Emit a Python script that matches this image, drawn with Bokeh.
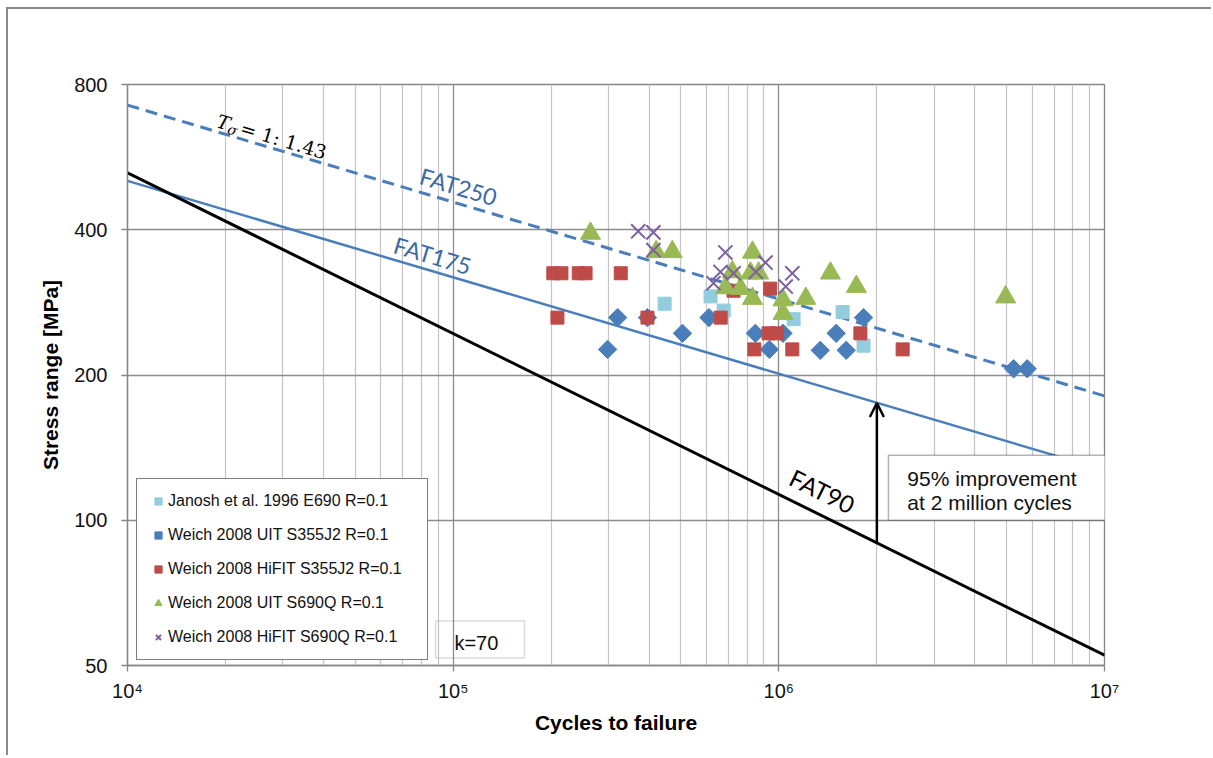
from bokeh.plotting import figure
from bokeh.models import (Range1d, FixedTicker, Legend, LegendItem, Label,
                          BoxAnnotation, Arrow, OpenHead)
from bokeh.core.properties import value
from bokeh.embed import file_html
from bokeh.resources import INLINE

# ---------------- data ----------------
JAN_N = [4.46e5, 6.17e5, 6.77e5, 1.11e6, 1.57e6, 1.82e6]
JAN_S = [281, 291, 272, 261, 270, 230]

UIT355_N = [2.98e5, 3.20e5, 3.95e5, 5.06e5, 6.10e5, 8.47e5, 9.35e5, 1.03e6,
            1.34e6, 1.50e6, 1.61e6, 1.82e6, 5.26e6, 5.79e6]
UIT355_S = [226, 263, 263, 244, 263, 244, 226, 244, 225, 244, 225, 263, 206, 206]

HIFIT355_N = [2.03e5, 2.15e5, 2.43e5, 2.55e5, 3.27e5, 2.09e5, 3.95e5, 6.63e5,
              7.26e5, 9.40e5, 9.30e5, 9.84e5, 8.41e5, 1.10e6, 1.78e6, 2.40e6]
HIFIT355_S = [325, 325, 325, 325, 325, 263, 263, 263, 299, 302, 244, 244, 226,
              226, 244, 226]

UIT690_N = [2.64e5, 4.20e5, 4.71e5, 7.20e5, 6.86e5, 7.63e5, 8.30e5, 8.19e5,
            8.67e5, 8.30e5, 1.03e6, 1.03e6, 1.21e6, 1.44e6, 1.73e6, 4.97e6]
UIT690_S = [393, 360, 360, 327, 303, 302, 359, 325, 325, 288, 286, 268, 288,
            325, 305, 290]

HIFIT690_N = [3.70e5, 4.12e5, 4.12e5, 6.85e5, 6.62e5, 6.30e5, 7.26e5, 9.10e5,
              8.50e5, 1.10e6, 1.05e6]
HIFIT690_S = [397, 395, 363, 359, 327, 310, 325, 342, 327, 325, 305]

LINE_N = [1e4, 1e7]
FAT250_S = [725, 181]
FAT175_S = [505, 127]
FAT90_S = [525, 52.5]

ARROW_N = 2e6
ARROW_FROM = 90
ARROW_TO = 175

X_TICKS = [10**4, 10**5, 10**6, 10**7]
X_LABELS = ["10⁴", "10⁵", "10⁶", "10⁷"]
Y_TICKS = [50, 100, 200, 400, 800]
Y_LABELS = ["50", "100", "200", "400", "800"]

LEGEND_LABELS = ["Janosh et al. 1996 E690 R=0.1",
                 "Weich 2008 UIT S355J2 R=0.1",
                 "Weich 2008 HiFIT S355J2 R=0.1",
                 "Weich 2008 UIT S690Q R=0.1",
                 "Weich 2008 HiFIT S690Q R=0.1"]

FONT = "Liberation Sans"
BLUE = "#4a7ebb"
BLUE_TXT = "#3b6aa6"

# ---------------- figure ----------------
p = figure(width=1205, height=748, x_axis_type="log", y_axis_type="log",
           x_range=Range1d(1e4, 1e7), y_range=Range1d(50, 800),
           output_backend="svg", toolbar_location=None,
           min_border_left=119, min_border_right=109,
           min_border_top=75, min_border_bottom=92,
           background_fill_color="white", border_fill_color="white",
           outline_line_color="#868686", outline_line_width=1.3)
p.styles = {"margin-left": "6px", "margin-top": "7px",
            "border-left": "2px solid #8a8a8a", "border-top": "2px solid #8a8a8a"}

p.xaxis.ticker = FixedTicker(ticks=X_TICKS,
                             minor_ticks=[m * 10**e for e in range(4, 7) for m in range(2, 10)])
p.yaxis.ticker = FixedTicker(ticks=Y_TICKS, minor_ticks=[])
p.xaxis.major_label_overrides = {t: l for t, l in zip(X_TICKS, X_LABELS)}
p.yaxis.major_label_overrides = {t: l for t, l in zip(Y_TICKS, Y_LABELS)}

for ax in (p.xaxis[0], p.yaxis[0]):
    ax.axis_line_color = "#868686"
    ax.axis_line_width = 1.3
    ax.major_tick_line_color = "#868686"
    ax.major_tick_line_width = 1.3
    ax.major_tick_out = 6
    ax.major_tick_in = 0
    ax.minor_tick_out = 0
    ax.minor_tick_in = 0
    ax.major_label_text_font = FONT
    ax.major_label_text_font_size = "20px"
    ax.major_label_text_color = "#111111"
    ax.axis_label_text_font = FONT
    ax.axis_label_text_font_size = "21px"
    ax.axis_label_text_font_style = "bold"
    ax.axis_label_text_color = "#000000"

p.xaxis.axis_label = "Cycles to failure"
p.yaxis.axis_label = "Stress range [MPa]"
p.xaxis.major_label_standoff = 8
p.yaxis.major_label_standoff = 14
p.xaxis.axis_label_standoff = 6
p.yaxis.axis_label_standoff = 9

p.xgrid.grid_line_color = "#8c8c8c"
p.xgrid.grid_line_width = 1.3
p.xgrid.minor_grid_line_color = "#c4c4c4"
p.xgrid.minor_grid_line_width = 1.2
p.ygrid.grid_line_color = "#8c8c8c"
p.ygrid.grid_line_width = 1.3

# ---------------- S-N lines ----------------
p.line(LINE_N, FAT250_S, line_color=BLUE, line_width=3, line_dash="12 7")
p.line(LINE_N, FAT175_S, line_color=BLUE, line_width=2.5)
p.line(LINE_N, FAT90_S, line_color="black", line_width=3)

# ---------------- data points ----------------
r_jan = p.scatter(JAN_N, JAN_S, marker="square", size=13,
                  fill_color="#93cddd", line_color="#93cddd")
r_uit355 = p.scatter(UIT355_N, UIT355_S, marker="square", angle=0.785398, size=13,
                     fill_color="#4a7ebb", line_color="#4a7ebb")
r_hif355 = p.scatter(HIFIT355_N, HIFIT355_S, marker="square", size=13,
                     fill_color="#be4b48", line_color="#be4b48")
r_uit690 = p.scatter(UIT690_N, UIT690_S, marker="triangle", size=20,
                     fill_color="#98b954", line_color="#98b954")
r_hif690 = p.scatter(HIFIT690_N, HIFIT690_S, marker="x", size=20,
                     line_color="#7d60a0", line_width=2)

legend = Legend(items=[LegendItem(label=LEGEND_LABELS[0], renderers=[r_jan]),
                       LegendItem(label=LEGEND_LABELS[1], renderers=[r_uit355]),
                       LegendItem(label=LEGEND_LABELS[2], renderers=[r_hif355]),
                       LegendItem(label=LEGEND_LABELS[3], renderers=[r_uit690]),
                       LegendItem(label=LEGEND_LABELS[4], renderers=[r_hif690])],
                location=(9, 5), padding=12, spacing=14,
                glyph_width=18, glyph_height=18, label_height=20,
                label_standoff=1, label_width=247,
                label_text_font=FONT, label_text_font_size="16px",
                label_text_color="#111111",
                border_line_color="black", border_line_width=1.5,
                background_fill_color="white", background_fill_alpha=1.0)
p.add_layout(legend)

# ---------------- annotations ----------------
p.add_layout(Arrow(end=OpenHead(size=14, line_width=2.5, line_color="black"),
                   x_start=ARROW_N, y_start=ARROW_FROM, x_end=ARROW_N, y_end=ARROW_TO,
                   line_width=2.5, line_color="black"))

p.add_layout(BoxAnnotation(left=2.17e6, right=1.01e7, bottom=100, top=136.4,
                           fill_color="white", fill_alpha=1.0,
                           line_color="black", line_width=1.5))
p.add_layout(Label(x=2.48e6, y=122.2, text="95% improvement", text_font=FONT,
                   text_font_size="21px", text_baseline="middle", text_color="#111111"))
p.add_layout(Label(x=2.48e6, y=109.0, text="at 2 million cycles", text_font=FONT,
                   text_font_size="21px", text_baseline="middle", text_color="#111111"))

p.add_layout(BoxAnnotation(left=8.83e4, right=1.656e5, bottom=51.8, top=61.8,
                           fill_alpha=0.0, line_color="#8c8c8c", line_width=1.5))
p.add_layout(Label(x=1.009e5, y=55.8, text="k=70", text_font=FONT,
                   text_font_size="20px", text_baseline="middle", text_color="#111111"))

# rotated line labels
p.text(x=[1.038e5], y=[492], text=["FAT250"], angle=-0.288, text_align="center",
       text_baseline="middle", text_font=value("Lato"), text_font_size="23px",
       text_color=BLUE_TXT)
p.text(x=[8.65e4], y=[354], text=["FAT175"], angle=-0.288, text_align="center",
       text_baseline="middle", text_font=value("Lato"), text_font_size="23px",
       text_color=BLUE_TXT)
p.text(x=[1.36e6], y=[115], text=["FAT90"], angle=-0.459, text_align="center",
       text_baseline="middle", text_font=value("Lato"), text_font_size="24px",
       text_color="black")

# T_sigma = 1:1.43 label
p.text(x=[1.89e4], y=[674], text=["T"], angle=-0.288, text_align="left",
       text_baseline="alphabetic", text_font=value("DejaVu Serif"),
       text_font_style="italic", text_font_size="19px", text_color="black")
p.text(x=[1.89e4], y=[674], text=["σ"], angle=-0.288, text_align="left",
       text_baseline="alphabetic", text_font=value("DejaVu Serif"),
       text_font_style="italic", text_font_size="14px", text_color="black",
       x_offset=10.5, y_offset=8.0)
p.text(x=[1.89e4], y=[674], text=["= 1: 1.43"], angle=-0.288, text_align="left",
       text_baseline="alphabetic", text_font=value("DejaVu Serif"),
       text_font_size="19px", text_color="black",
       x_offset=23.5, y_offset=7.0)

open("out.html", "w").write(file_html(p, INLINE))
